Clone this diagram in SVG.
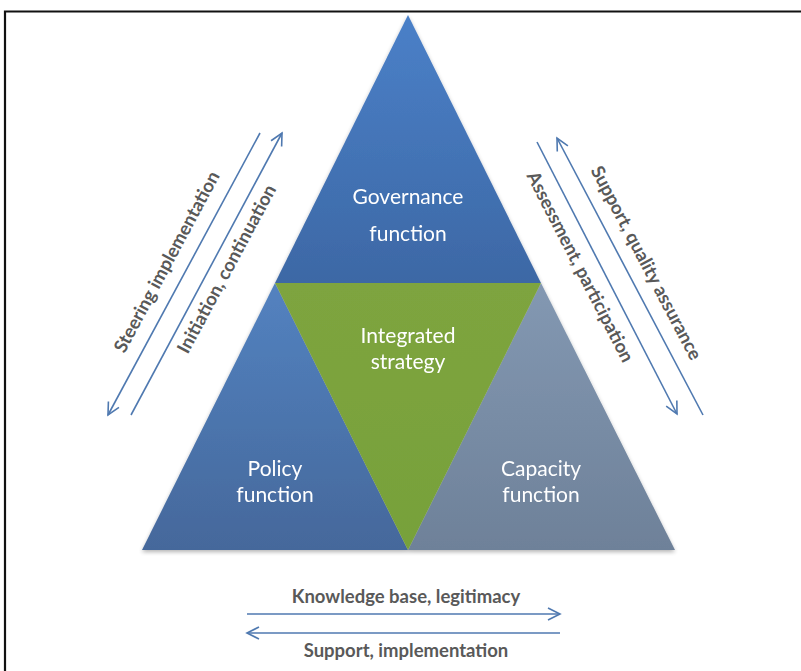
<svg xmlns="http://www.w3.org/2000/svg" width="801" height="671" viewBox="0 0 801 671">
<defs>
<style>
.lbl{font-family:Lato,"Liberation Sans",sans-serif;font-size:21px;fill:#ffffff;text-anchor:middle}
.cap{font-family:Lato,"Liberation Sans",sans-serif;font-size:18.5px;font-weight:bold;fill:#595959;text-anchor:middle}
.arr{stroke:#4f79b0;stroke-width:1.6;fill:none}
</style>
<linearGradient id="gGov" x1="0" y1="0" x2="0" y2="1"><stop offset="0" stop-color="#4a80c8"/><stop offset="1" stop-color="#3d68a5"/></linearGradient>
<linearGradient id="gPol" x1="0" y1="0" x2="0" y2="1"><stop offset="0" stop-color="#5382c0"/><stop offset="1" stop-color="#45689b"/></linearGradient>
<linearGradient id="gStr" x1="0" y1="0" x2="0" y2="1"><stop offset="0" stop-color="#7ea43f"/><stop offset="1" stop-color="#77a13a"/></linearGradient>
<linearGradient id="gCap" x1="0" y1="0" x2="0" y2="1"><stop offset="0" stop-color="#8398b2"/><stop offset="1" stop-color="#6e8199"/></linearGradient>
<filter id="sh" x="-10%" y="-10%" width="120%" height="120%"><feGaussianBlur in="SourceAlpha" stdDeviation="2"/><feOffset dy="2"/><feComponentTransfer><feFuncA type="linear" slope="0.3"/></feComponentTransfer><feMerge><feMergeNode/><feMergeNode in="SourceGraphic"/></feMerge></filter>
<marker id="ah" markerUnits="userSpaceOnUse" markerWidth="16" markerHeight="16" viewBox="-14 -8 16 16" refX="0" refY="0" orient="auto"><path d="M-12,-6 L0,0 L-12,6" stroke="#4f79b0" stroke-width="1.6" fill="none"/></marker>
</defs>
<rect width="801" height="671" fill="#ffffff"/>
<path d="M5,671 L5,11.5 L801,11.5" stroke="#111111" stroke-width="2.2" fill="none"/>
<g filter="url(#sh)">
<g id="governance">
<polygon points="408,15 541,283 275,283" fill="url(#gGov)"/>
<text class="lbl" x="408" y="204">Governance</text>
<text class="lbl" x="408" y="241">function</text>
</g>
<g id="policy">
<polygon points="275,283 408,550 142,550" fill="url(#gPol)"/>
<text class="lbl" x="275" y="476">Policy</text>
<text class="lbl" x="275" y="502">function</text>
</g>
<g id="capacity">
<polygon points="541,283 675,550 408,550" fill="url(#gCap)"/>
<text class="lbl" x="541" y="476">Capacity</text>
<text class="lbl" x="541" y="502">function</text>
</g>
<g id="strategy">
<polygon points="275,283 541,283 408,550" fill="url(#gStr)"/>
<text class="lbl" x="408" y="343">Integrated</text>
<text class="lbl" x="408" y="369">strategy</text>
</g>
</g>
<g id="connectors">
<line class="arr" x1="260" y1="133" x2="108" y2="415" marker-end="url(#ah)"/>
<line class="arr" x1="131" y1="415" x2="282" y2="133" marker-end="url(#ah)"/>
<line class="arr" x1="537" y1="142" x2="677" y2="414" marker-end="url(#ah)"/>
<line class="arr" x1="703" y1="415" x2="557" y2="138" marker-end="url(#ah)"/>
<line class="arr" x1="247" y1="614" x2="560" y2="614" marker-end="url(#ah)"/>
<line class="arr" x1="560" y1="633" x2="247" y2="633" marker-end="url(#ah)"/>
<text class="cap" transform="translate(167,262) rotate(-61.8)" x="0" y="6">Steering implementation</text>
<text class="cap" transform="translate(227,269) rotate(-61.8)" x="0" y="6">Initiation, continuation</text>
<text class="cap" transform="translate(646,263) rotate(62.2)" x="0" y="6">Support, quality assurance</text>
<text class="cap" transform="translate(580,267) rotate(62.8)" x="0" y="6">Assessment, participation</text>
<text class="cap" x="406" y="603">Knowledge base, legitimacy</text>
<text class="cap" x="406" y="657">Support, implementation</text>
</g>
</svg>
